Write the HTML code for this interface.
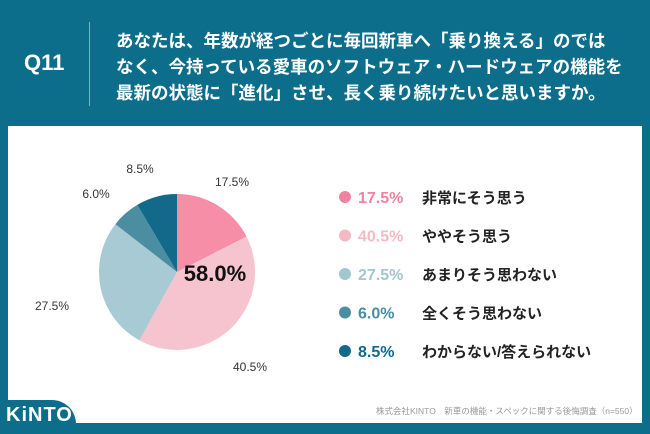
<!DOCTYPE html>
<html><head><meta charset="utf-8"><style>
body{margin:0;width:650px;height:434px;background:#0d6e8b;position:relative;overflow:hidden;font-family:"Liberation Sans","Noto Sans CJK JP",sans-serif}
.abs{position:absolute}
</style></head><body>
<div class="abs" style="left:24px;top:50px;color:#fff;font-size:22px;font-weight:bold">Q11</div>
<div class="abs" style="left:89px;top:22px;width:1px;height:84px;background:#7fb3c4"></div>
<div class="abs" style="left:116px;top:28px;color:#fff;font-size:17.5px;font-weight:bold;line-height:26px;white-space:nowrap">あなたは、年数が経つごとに毎回新車へ「乗り換える」のでは<br>なく、今持っている愛車のソフトウェア・ハードウェアの機能を<br>最新の状態に「進化」させ、長く乗り続けたいと思いますか。</div>
<div class="abs" style="left:8px;top:126px;width:634px;height:297px;background:#fff"></div>
<div class="abs" style="left:0;top:400px;width:76px;height:34px;background:#0d6e8b;border-top-right-radius:24px"></div>
<div class="abs" style="left:6px;top:404px;color:#fff;font-size:20px;font-weight:bold;letter-spacing:1px">KiNTO</div>
<div class="abs" style="left:376px;top:405px;color:#999;font-size:8.5px;white-space:nowrap">株式会社KINTO　新車の機能・スペックに関する後悔調査（n=550）</div>
<svg class="abs" style="left:0;top:0" width="650" height="434" id="chart"></svg>
<script>
const categories=["非常にそう思う","ややそう思う","あまりそう思わない","全くそう思わない","わからない/答えられない"];
const values=[17.5,40.5,27.5,6.0,8.5];
const colors=["#f58ea6","#f6c4ce","#a8cad5","#4b8ea1","#12698a"];
const legendColors=["#f0839f","#f3b9c5","#a3c6d1","#4b8ea1","#12698a"];
const svg=document.getElementById('chart');const NS="http://www.w3.org/2000/svg";
const cx=177,cy=272,r=78;
const total=values.reduce((a,b)=>a+b,0);
function pt(a,rr){return [cx+rr*Math.sin(a),cy-rr*Math.cos(a)];}
let acc=0;
const labelPos=[[232,186],[250,371],[52,310],[96,198],[140,173]];
values.forEach((v,i)=>{
 const a0=acc/total*2*Math.PI;acc+=v;const a1=acc/total*2*Math.PI;
 const p0=pt(a0,r),p1=pt(a1,r);
 const p=document.createElementNS(NS,'path');
 p.setAttribute('d',`M${cx},${cy}L${p0[0]},${p0[1]}A${r},${r} 0 ${a1-a0>Math.PI?1:0} 1 ${p1[0]},${p1[1]}Z`);
 p.setAttribute('fill',colors[i]);
 
 
 svg.appendChild(p);
 const t=document.createElementNS(NS,'text');
 t.setAttribute('x',labelPos[i][0]);t.setAttribute('y',labelPos[i][1]);
 t.setAttribute('text-anchor','middle');t.setAttribute('font-size','12');t.setAttribute('fill','#333');
 t.textContent=v.toFixed(1)+'%';
 
 
 svg.appendChild(t);
 const y=197+i*38.5;
 const c=document.createElementNS(NS,'circle');
 c.setAttribute('cx',345);c.setAttribute('cy',y);c.setAttribute('r',6);c.setAttribute('fill',legendColors[i]);
 
 
 svg.appendChild(c);
 const lp=document.createElementNS(NS,'text');
 lp.setAttribute('x',358);lp.setAttribute('y',y+6);lp.setAttribute('font-size','16');lp.setAttribute('font-weight','bold');lp.setAttribute('fill',legendColors[i]);
 lp.textContent=v.toFixed(1)+'%';
 
 
 svg.appendChild(lp);
 const lt=document.createElementNS(NS,'text');
 lt.setAttribute('x',422);lt.setAttribute('y',y+6);lt.setAttribute('font-size','15');lt.setAttribute('font-weight','bold');lt.setAttribute('fill','#222');
 lt.textContent=categories[i];
 
 
 svg.appendChild(lt);
});
const ct=document.createElementNS(NS,'text');
ct.setAttribute('x',215);ct.setAttribute('y',281);ct.setAttribute('text-anchor','middle');ct.setAttribute('font-size','22');ct.setAttribute('font-weight','bold');ct.setAttribute('fill','#111');
ct.textContent=(values[0]+values[1]).toFixed(1)+'%';


svg.appendChild(ct);
</script>
</body></html>
